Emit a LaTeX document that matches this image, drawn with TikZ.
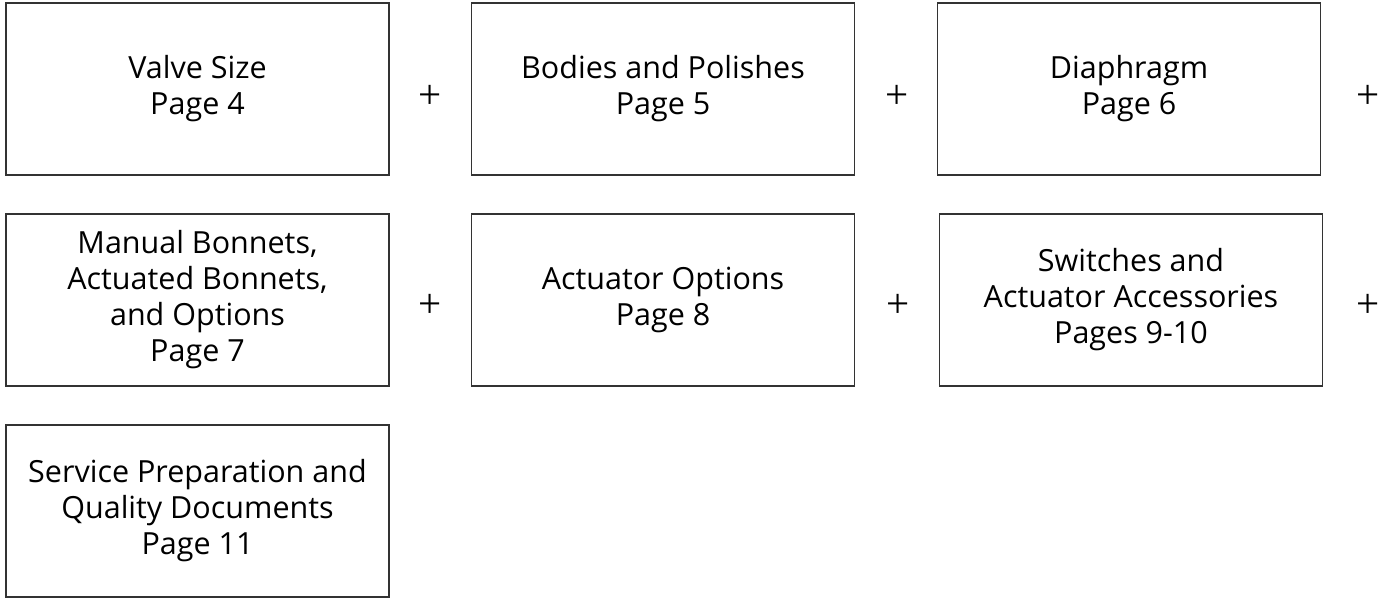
\documentclass[tikz,border=0pt]{standalone}
\usepackage{fontspec}
\setmainfont{Open Sans}
\newfontfamily\plusfont{Liberation Serif}
\begin{document}
\begin{tikzpicture}[x=1pt,y=-1pt,
  optbox/.style={draw=black!80, line width=1.2pt, rectangle, minimum width=383pt, minimum height=172pt, inner sep=0pt, align=center, font=\fontsize{30.5}{36}\selectfont, text=black},
  plussign/.style={inner sep=0pt, font=\plusfont\fontsize{41}{44}\selectfont, text=black}]
\useasboundingbox (0,0) rectangle (1391,598);
\node[optbox] (size) at (197.5,89) {Valve Size\\Page 4};
\node[optbox] (bodies) at (663,89) {Bodies and Polishes\\Page 5};
\node[optbox] (diaph) at (1129,89) {Diaphragm\\Page 6};
\node[optbox] (bonnets) at (197.5,300) {Manual Bonnets,\\Actuated Bonnets,\\and Options\\Page 7};
\node[optbox] (actopt) at (663,300) {Actuator Options\\Page 8};
\node[optbox] (switches) at (1131,300) {Switches and\\Actuator Accessories\\Pages 9-10};
\node[optbox] (service) at (197.5,511) {Service Preparation and\\Quality Documents\\Page 11};
\node[plussign] (p1) at (430,97) {+};
\node[plussign] (p2) at (897,97) {+};
\node[plussign] (p3) at (1368,97) {+};
\node[plussign] (p4) at (430,306) {+};
\node[plussign] (p5) at (898,306) {+};
\node[plussign] (p6) at (1368,306) {+};
\end{tikzpicture}
\end{document}
